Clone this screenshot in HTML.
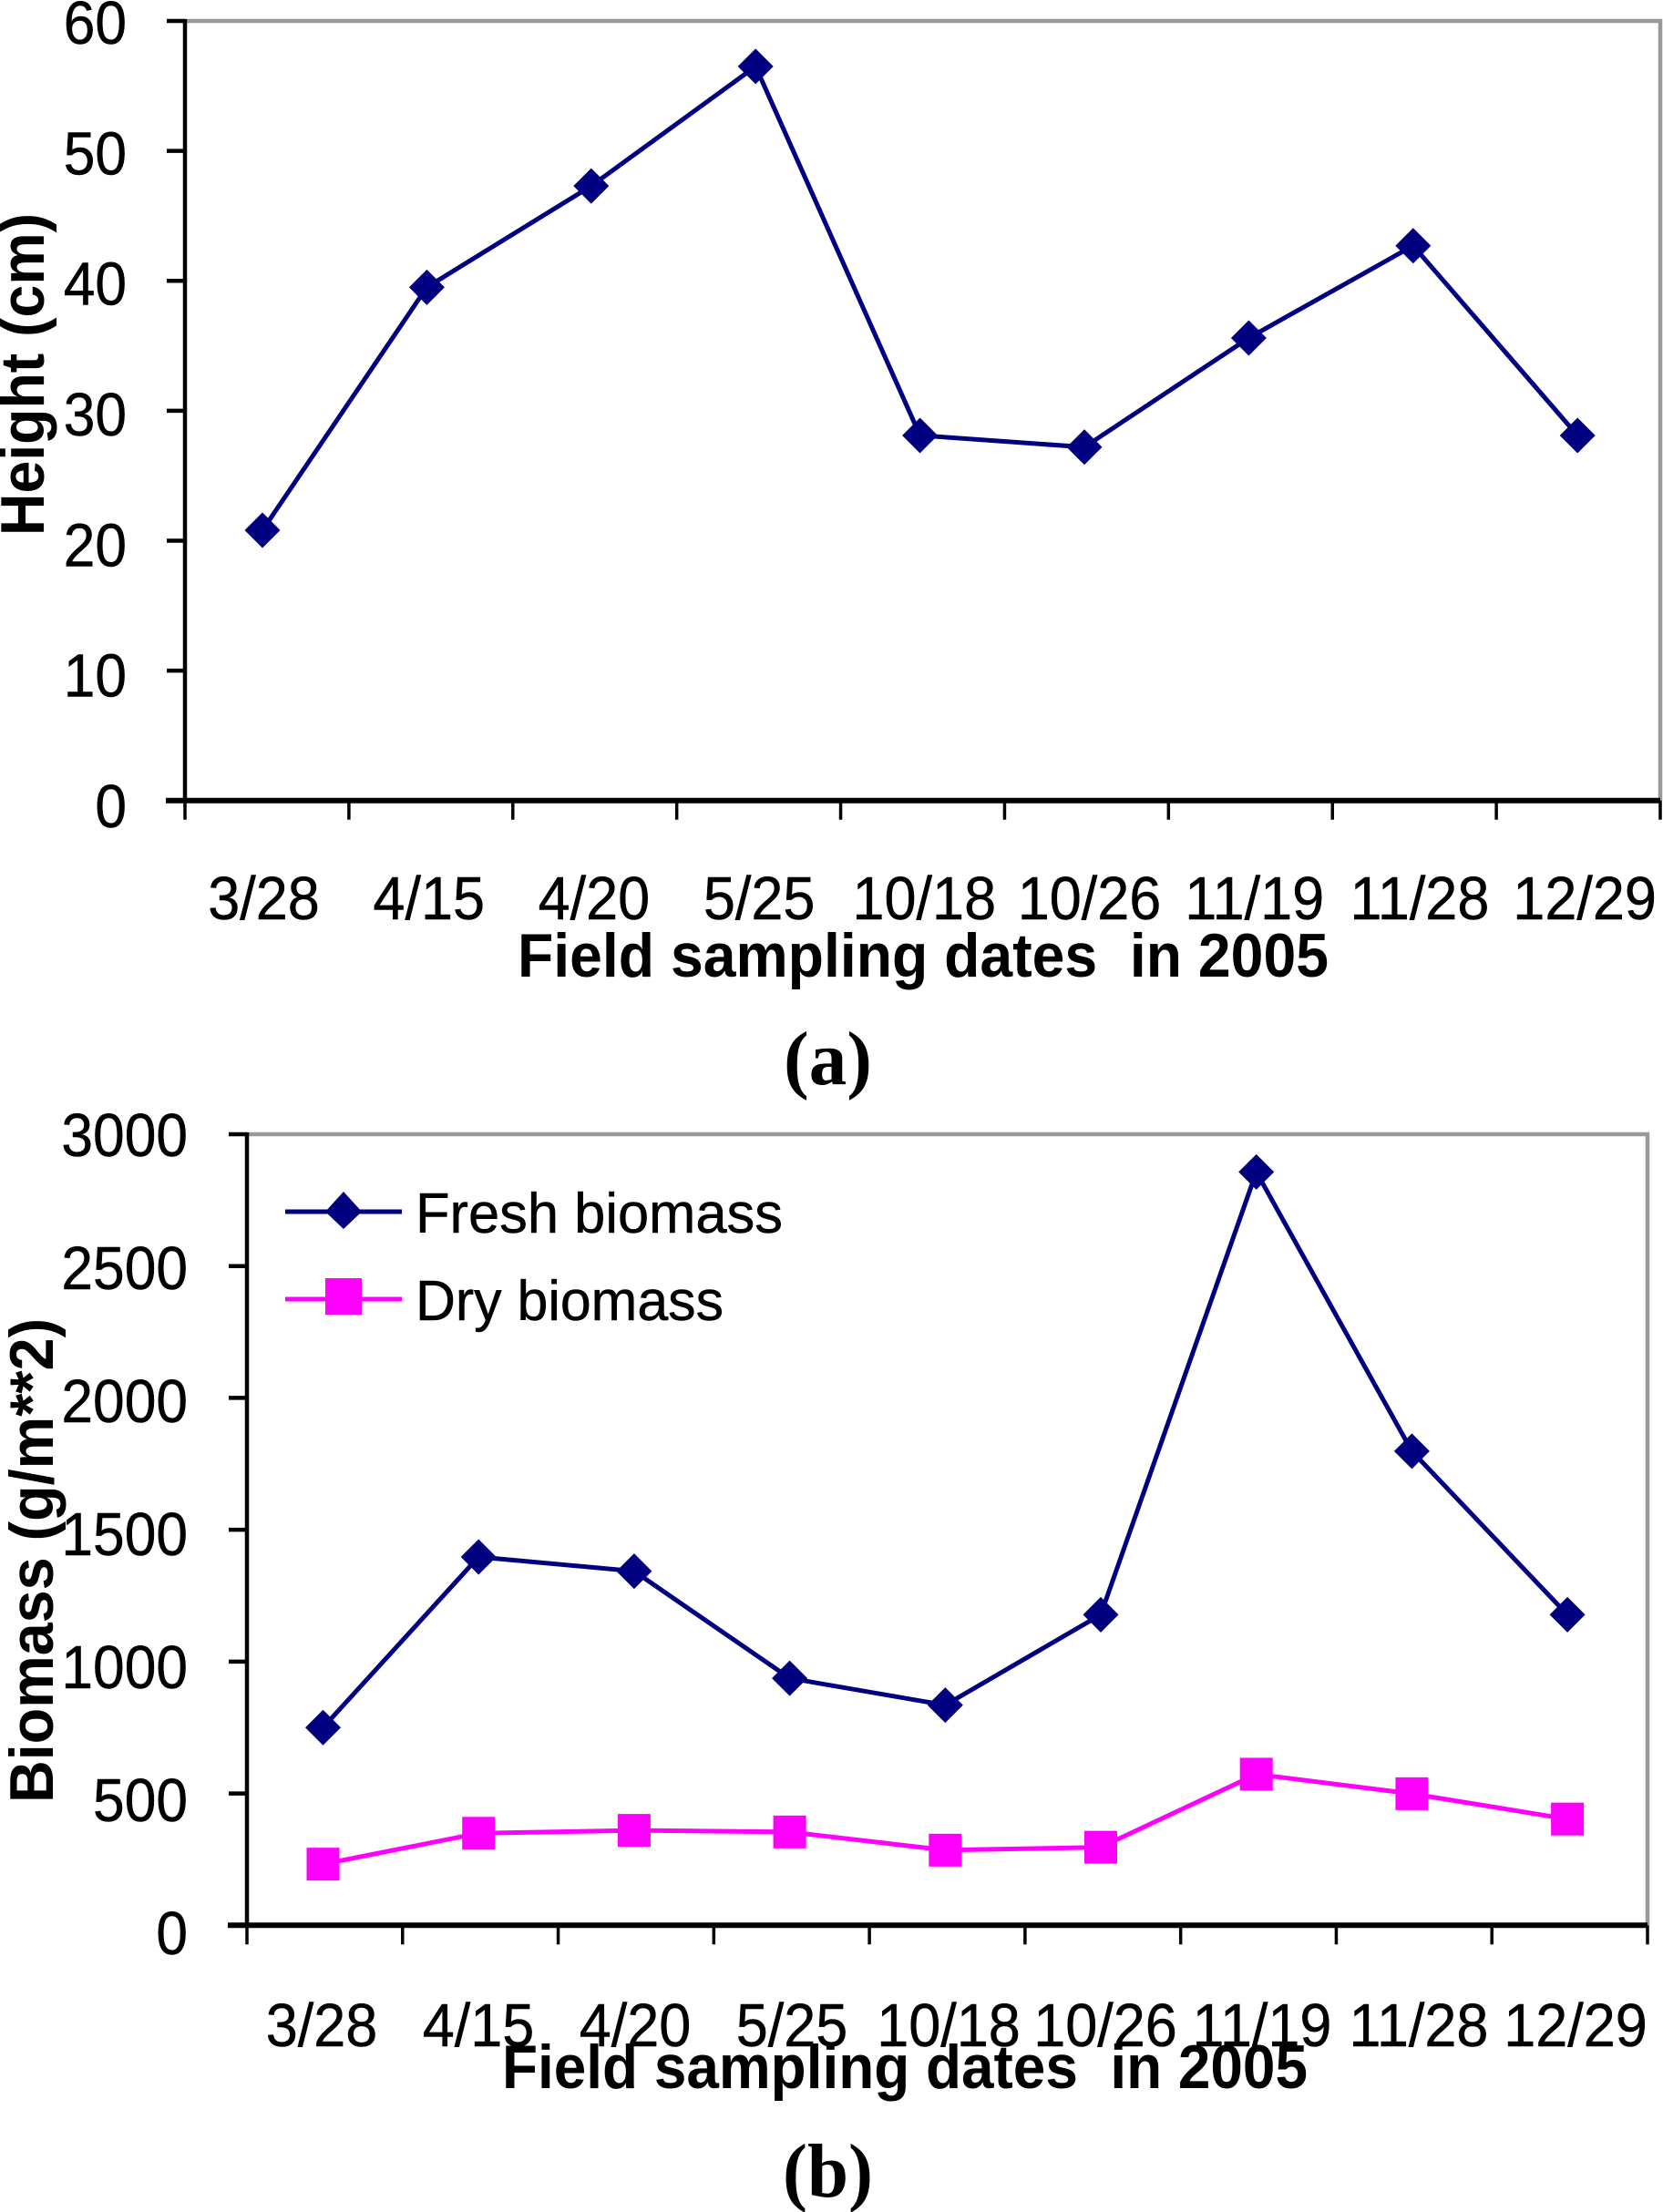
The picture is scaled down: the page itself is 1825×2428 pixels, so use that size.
<!DOCTYPE html>
<html lang="en">
<head>
<meta charset="utf-8">
<title>Field sampling charts</title>
<style>
html,body{margin:0;padding:0;background:#fff;}
svg{display:block;}
text{font-family:"Liberation Sans",Arial,sans-serif;fill:#000;}
.reg{stroke:#000;stroke-width:0.5px;}
.bold{font-weight:bold;}
.serif{font-family:"Liberation Serif","Times New Roman",serif;font-weight:bold;}
</style>
</head>
<body>
<svg id="figure" xmlns="http://www.w3.org/2000/svg" width="1825" height="2428" viewBox="0 0 1825 2428">
  <g id="panel-a"></g>
  <g id="panel-b"></g>

  <text class="bold" font-size="68" transform="translate(48,588) rotate(-90)" textLength="354" lengthAdjust="spacingAndGlyphs">Height (cm)</text>
  <text class="bold" font-size="68" x="568" y="1072" textLength="890" lengthAdjust="spacingAndGlyphs" xml:space="preserve">Field sampling dates  in 2005</text>
  <text class="serif" font-size="84" x="860" y="1190" textLength="97" lengthAdjust="spacingAndGlyphs">(a)</text>

  <text class="bold" font-size="68" transform="translate(58,1979) rotate(-90)" textLength="532" lengthAdjust="spacingAndGlyphs">Biomass (g/m**2)</text>
  <text class="bold" font-size="68" x="551" y="2292" textLength="884" lengthAdjust="spacingAndGlyphs" xml:space="preserve">Field sampling dates  in 2005</text>
  <text class="serif" font-size="84" x="859" y="2411" textLength="99" lengthAdjust="spacingAndGlyphs">(b)</text>

  <g>
    <g>
      <line x1="313" y1="1330" x2="441" y2="1330" stroke="#000080" stroke-width="5"/>
      <polygon points="377,1308 397,1330 377,1349 357,1330" fill="#000080"/>
      <text class="reg" font-size="62" x="456" y="1353" textLength="403" lengthAdjust="spacingAndGlyphs">Fresh biomass</text>
    </g>
    <g>
      <line x1="313" y1="1426" x2="441" y2="1426" stroke="#ff00ff" stroke-width="5"/>
      <rect x="357" y="1403" width="40" height="40" fill="#ff00ff"/>
      <text class="reg" font-size="62" x="456" y="1449" textLength="338" lengthAdjust="spacingAndGlyphs">Dry biomass</text>
    </g>
  </g>
</svg>
<script>
// ---- data ----
const dates = ['3/28','4/15','4/20','5/25','10/18','10/26','11/19','11/28','12/29'];
const heightValues = [20.8,39.5,47.3,56.5,28.1,27.2,35.6,42.7,28.1];
const freshBiomass = [750,1397,1343,937,835,1178,2857,1798,1178];
const dryBiomass = [232,349,360,354,285,296,573,499,403];
const heightTicks = [0,10,20,30,40,50,60];
const biomassTicks = [0,500,1000,1500,2000,2500,3000];

const NS = 'http://www.w3.org/2000/svg';
function mk(parent, tag, attrs){
  const el = document.createElementNS(NS, tag);
  for (const k in attrs) el.setAttribute(k, attrs[k]);
  parent.appendChild(el);
  return el;
}
function drawChart(root, cfg){
  const n = dates.length;
  const yMax = cfg.ticks[cfg.ticks.length-1];
  const y = v => cfg.bottom - (v/yMax)*(cfg.bottom-cfg.top);
  const yLab = v => cfg.labBottom - (v/yMax)*(cfg.labBottom-cfg.labTop);
  const xMark = i => cfg.markX0 + i*cfg.markStep;
  const xLab = i => cfg.labX0 + i*cfg.labStep;
  const xTick = i => cfg.left + i*(cfg.right-cfg.left)/n;

  // frame
  const frame = mk(root,'path',{d:`M${cfg.left} ${cfg.top}H${cfg.right}V${cfg.bottom}`,fill:'none',stroke:'#999',"stroke-width":4.5});
  
  

  // y axis
  const yAxis = mk(root,'line',{x1:cfg.left,x2:cfg.left,y1:cfg.top-2,y2:cfg.bottom,stroke:'#000',"stroke-width":4.5});
  
  
  cfg.ticks.forEach(v=>{
    const t = mk(root,'line',{x1:cfg.left-20,x2:cfg.left,y1:y(v),y2:y(v),stroke:'#000',"stroke-width":4.5});
    
    
    const l = mk(root,'text',{"font-size":67,"text-anchor":'end',"class":'reg',transform:`translate(${cfg.labRight},${yLab(v)}) scale(0.93,1)`});
    
    
    l.textContent = v;
  });

  // x axis
  const xAxis = mk(root,'line',{x1:cfg.left-21,x2:cfg.right,y1:cfg.bottom,y2:cfg.bottom,stroke:'#000',"stroke-width":6});
  
  
  for (let i=0;i<=n;i++){
    const t = mk(root,'line',{x1:xTick(i),x2:xTick(i),y1:cfg.bottom,y2:cfg.bottom+21,stroke:'#000',"stroke-width":3.5});
    
    
  }
  dates.forEach((d,i)=>{
    const l = mk(root,'text',{"font-size":67,"text-anchor":'middle',"class":'reg',transform:`translate(${xLab(i)},${cfg.xLabY}) scale(0.94,1)`});
    
    
    l.textContent = d;
  });

  // series
  cfg.series.forEach(s=>{
    const g = mk(root,'g',{});
    
    
    const line = mk(g,'polyline',{points:s.values.map((v,i)=>`${xMark(i)},${y(v)}`).join(' '),fill:'none',stroke:s.color,"stroke-width":5,"stroke-linejoin":'round'});
    
    
    s.values.forEach((v,i)=>{
      const cx = xMark(i), cy = y(v);
      let m;
      if (s.marker==='diamond'){
        m = mk(g,'polygon',{points:`${cx},${cy-19.5} ${cx+19.5},${cy} ${cx},${cy+19.5} ${cx-19.5},${cy}`,fill:s.color});
      } else {
        m = mk(g,'rect',{x:cx-18,y:cy-18,width:36,height:36,fill:s.color});
      }
      
      
    });
  });
}

drawChart(document.getElementById('panel-a'),{
  left:203,right:1822,top:23,bottom:878.7,
  labRight:139,labTop:48,labBottom:908,xLabY:1009,
  markX0:288,markStep:180.4,labX0:289.5,labStep:181.2,
  ticks:heightTicks,
  series:[{name:'height-series',values:heightValues,color:'#000080',marker:'diamond'}]
});
drawChart(document.getElementById('panel-b'),{
  left:271,right:1808,top:1245,bottom:2113.3,
  labRight:206,labTop:1269,labBottom:2145,xLabY:2246,
  markX0:354.5,markStep:170.7,labX0:353,labStep:172,
  ticks:biomassTicks,
  series:[
    {name:'fresh-biomass-series',values:freshBiomass,color:'#000080',marker:'diamond'},
    {name:'dry-biomass-series',values:dryBiomass,color:'#ff00ff',marker:'square'}
  ]
});
</script>
</body>
</html>
